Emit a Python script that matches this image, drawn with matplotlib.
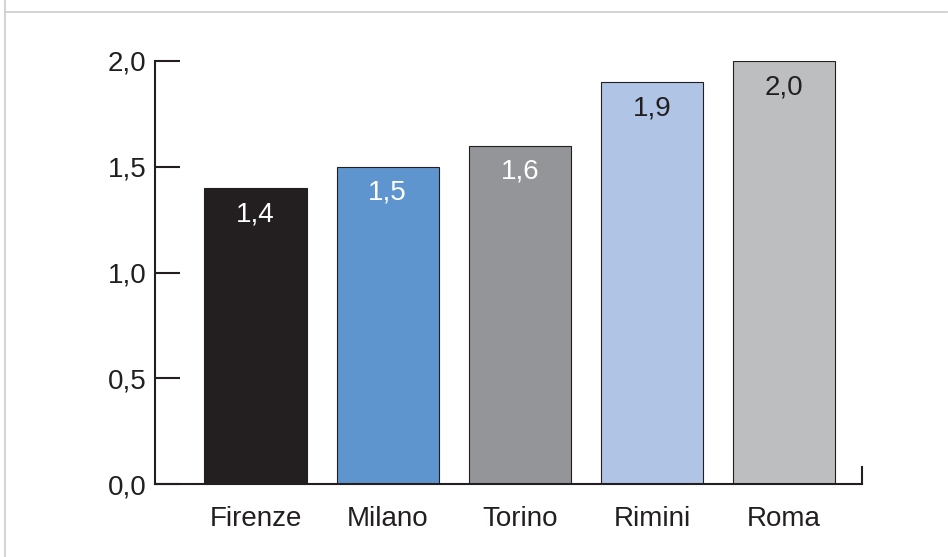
import matplotlib.pyplot as plt
from matplotlib.lines import Line2D

cities = ['Firenze', 'Milano', 'Torino', 'Rimini', 'Roma']
values = [1.4, 1.5, 1.6, 1.9, 2.0]
bar_colors = ['#231f20', '#5e95cf', '#939598', '#b0c4e6', '#bcbec0']
label_colors = ['white', 'white', 'white', '#231f20', '#231f20']
yticks = [0.0, 0.5, 1.0, 1.5, 2.0]
ytick_labels = ['0,0', '0,5', '1,0', '1,5', '2,0']

plt.rcParams['font.family'] = ['Liberation Sans', 'DejaVu Sans']
fig = plt.figure(figsize=(9.48, 5.57), dpi=100)
ax = fig.add_axes([155 / 948, 1 - 484 / 557, (862 - 155) / 948, (484 - 61) / 557])

x = range(len(cities))
bars = ax.bar(x, values, width=0.773, color=bar_colors, edgecolor='#231f20', linewidth=0.8)
for xi, v, c in zip(x, values, label_colors):
    ax.text(xi, v - 0.124, f'{v:.1f}'.replace('.', ','), ha='center', va='center',
            fontsize=20, color=c)

ax.set_xlim(-0.761, 4.59)
ax.set_ylim(0, 2.0)
ax.set_yticks(yticks)
ax.set_yticklabels(ytick_labels, fontsize=20, color='#231f20')
ax.set_xticks(list(x))
ax.set_xticklabels(cities, fontsize=20, color='#231f20')
ax.tick_params(axis='y', direction='in', length=18, width=1.5, color='#231f20', pad=6)
ax.tick_params(axis='x', length=0, pad=16)
for side in ['top', 'right']:
    ax.spines[side].set_visible(False)
for side in ['left', 'bottom']:
    ax.spines[side].set_linewidth(1.5)
    ax.spines[side].set_color('#231f20')
# small tick at right end of x axis
ax.plot([1, 1], [0, 0.04], transform=ax.transAxes, color='#231f20', lw=1.5, clip_on=False)

# gray frame lines
fig.add_artist(Line2D([5 / 948, 5 / 948], [0, 1], color='#cccccc', lw=1.2))
fig.add_artist(Line2D([5 / 948, 947 / 948], [1 - 12 / 557, 1 - 12 / 557], color='#cccccc', lw=1.2))

fig.savefig('out.png', dpi=100)
